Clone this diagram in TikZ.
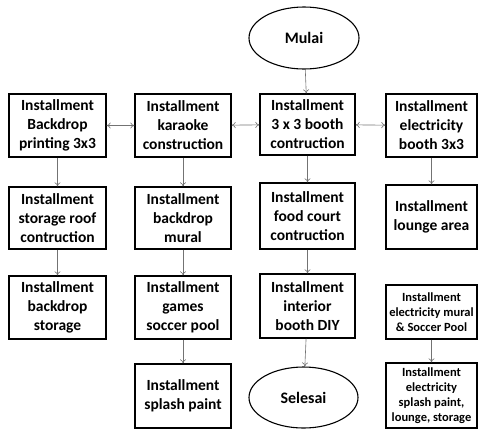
\documentclass[tikz,border=0pt]{standalone}
\usepackage{fontspec}
\setmainfont{Carlito}
\usetikzlibrary{shapes.geometric,arrows.meta,positioning}

\tikzset{
  stepbox/.style={rectangle, draw=black, line width=1.3pt, inner sep=0pt, align=center,
    minimum width=96pt, minimum height=63pt, font=\bfseries\fontsize{15.5}{19}\selectfont},
  smallbox/.style={stepbox, font=\bfseries\fontsize{12.5}{15}\selectfont},
  terminal/.style={ellipse, draw=black, line width=1.1pt, inner sep=0pt,
    minimum width=110pt, minimum height=62pt, font=\bfseries\fontsize{16}{19}\selectfont},
  flow/.style={draw=black!55, line width=0.6pt, -{To[length=4pt,width=6pt]}},
  both/.style={flow, {To[length=4pt,width=6pt]}-{To[length=4pt,width=6pt]}}
}

\begin{document}
\begin{tikzpicture}[x=1pt,y=-1pt]
  \useasboundingbox (0,0) rectangle (479,429);

  \node[terminal] (mulai) at (304,38) {Mulai};
  \node[terminal, minimum width=109pt, minimum height=61pt] (selesai) at (303.5,397.5) {Selesai};

  % column 1
  \node[stepbox, minimum width=97pt] (backdrop) at (57.5,125.5) {Installment\\Backdrop\\printing 3x3};
  \node[stepbox, minimum width=97pt, minimum height=62pt] (roof) at (57.5,218) {Installment\\storage roof\\contruction};
  \node[stepbox, minimum width=97pt] (storage) at (57.5,307.5) {Installment\\backdrop\\storage};

  % column 2
  \node[stepbox] (karaoke) at (183,125.5) {Installment\\karaoke\\construction};
  \node[stepbox, minimum height=62pt] (mural) at (183,218) {Installment\\backdrop\\mural};
  \node[stepbox] (soccer) at (183,307.5) {Installment\\games\\soccer pool};
  \node[stepbox, minimum height=64pt] (splash) at (183,396) {Installment\\splash paint};

  % column 3
  \node[stepbox, minimum width=95pt, minimum height=61pt] (booth) at (307.5,124.5) {Installment\\3 x 3 booth\\contruction};
  \node[stepbox, minimum width=95pt, minimum height=66pt] (food) at (307.5,216) {Installment\\food court\\contruction};
  \node[stepbox, minimum width=95pt, minimum height=64pt] (interior) at (307.5,306) {Installment\\interior\\booth DIY};

  % column 4
  \node[stepbox, minimum width=91pt] (elbooth) at (431.5,125.5) {Installment\\electricity\\booth 3x3};
  \node[stepbox, minimum width=91pt, minimum height=64pt] (lounge) at (431.5,217) {Installment\\lounge area};
  \node[smallbox, minimum width=91pt, minimum height=54pt] (elmural) at (431.5,312) {Installment\\electricity mural\\\& Soccer Pool};
  \node[smallbox, minimum width=91pt, minimum height=65pt] (elsplash) at (431.5,395.5) {Installment\\electricity\\splash paint,\\lounge, storage};

  \draw[both] (backdrop) -- (karaoke);
  \draw[both] (karaoke) -- (booth);
  \draw[both] (booth) -- (elbooth);

  \draw[flow] (mulai) -- (booth);
  \draw[flow] (backdrop) -- (roof);
  \draw[flow] (roof) -- (storage);
  \draw[flow] (karaoke) -- (mural);
  \draw[flow] (mural) -- (soccer);
  \draw[flow] (soccer) -- (splash);
  \draw[flow] (booth) -- (food);
  \draw[flow] (food) -- (interior);
  \draw[flow] (interior) -- (selesai);
  \draw[flow] (elbooth) -- (lounge);
  \draw[flow] (elmural) -- (elsplash);

\end{tikzpicture}
\end{document}
